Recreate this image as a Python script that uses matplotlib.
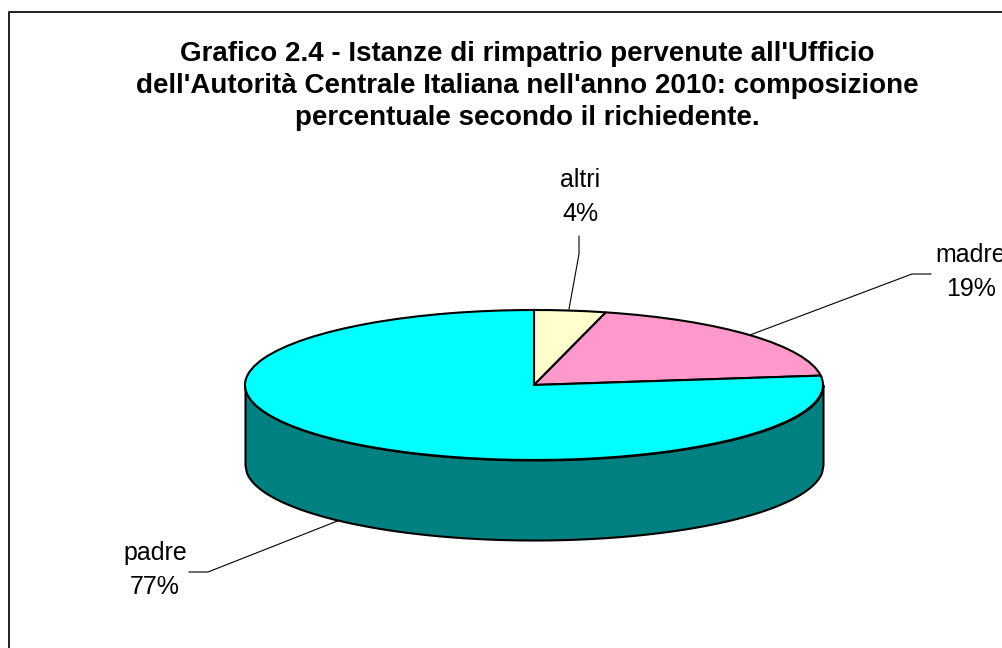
import matplotlib.pyplot as plt
import numpy as np

plt.rcParams['font.family'] = ['Liberation Sans', 'DejaVu Sans']

labels = ["altri", "madre", "padre"]
values = [4, 19, 77]
colors = ["#FFFFCC", "#FF99CC", "#00FFFF"]
side_color = "#008080"
title = ("Grafico 2.4 - Istanze di rimpatrio pervenute all'Ufficio\n"
         "dell'Autorità Centrale Italiana nell'anno 2010: composizione\n"
         "percentuale secondo il richiedente.")

W, H = 1002, 648
fig = plt.figure(figsize=(W / 100, H / 100), dpi=100)

# overlay in pixel coords for frame, texts and leader lines
bg = fig.add_axes([0, 0, 1, 1])
bg.set_xlim(0, W)
bg.set_ylim(H, 0)
bg.axis("off")
bg.plot([9, 9, W + 5], [H + 5, 12, 12], color="#202020", lw=1.4)

# the pie is squashed into the top ellipse
x0, x1, y0, y1 = 245, 823, 310, 460
ax = fig.add_axes([x0 / W, 1 - y1 / H, (x1 - x0) / W, (y1 - y0) / H])
ax.pie(values, colors=colors, startangle=90, counterclock=False, radius=1,
       wedgeprops=dict(edgecolor="black", linewidth=1.5, clip_on=False))
ax.set_aspect("auto")
ax.set_xlim(-1, 1)
ax.set_ylim(-1, 1)

# side of the cylinder
depth = 80 / 75
xs = np.linspace(-1, 1, 400)
front = -np.sqrt(1 - xs ** 2)
ax.fill_between(xs, front, front - depth, facecolor=side_color, edgecolor="black",
                linewidth=1.5, clip_on=False, zorder=0)

bg.text(527, 86, title, ha="center", va="center", fontsize=20, fontweight="bold",
        linespacing=1.32, color="black")

bg.text(580, 197, labels[0] + "\n" + f"{values[0]}%", ha="center", va="center",
        fontsize=18, linespacing=1.5, color="black")
bg.text(971, 272, labels[1] + "\n" + f"{values[1]}%", ha="center", va="center",
        fontsize=18, linespacing=1.5, color="black", clip_on=True)
bg.text(155, 570, labels[2] + "\n" + f"{values[2]}%", ha="center", va="center",
        fontsize=18, linespacing=1.5, color="black")

# leader lines
bg.plot([579, 579, 569], [236, 254, 309], color="black", lw=0.8)
bg.plot([931, 912, 750], [274, 274, 335], color="black", lw=0.8)
bg.plot([189, 208, 340], [572, 572, 520], color="black", lw=0.8)

plt.savefig("out.png", dpi=100)
